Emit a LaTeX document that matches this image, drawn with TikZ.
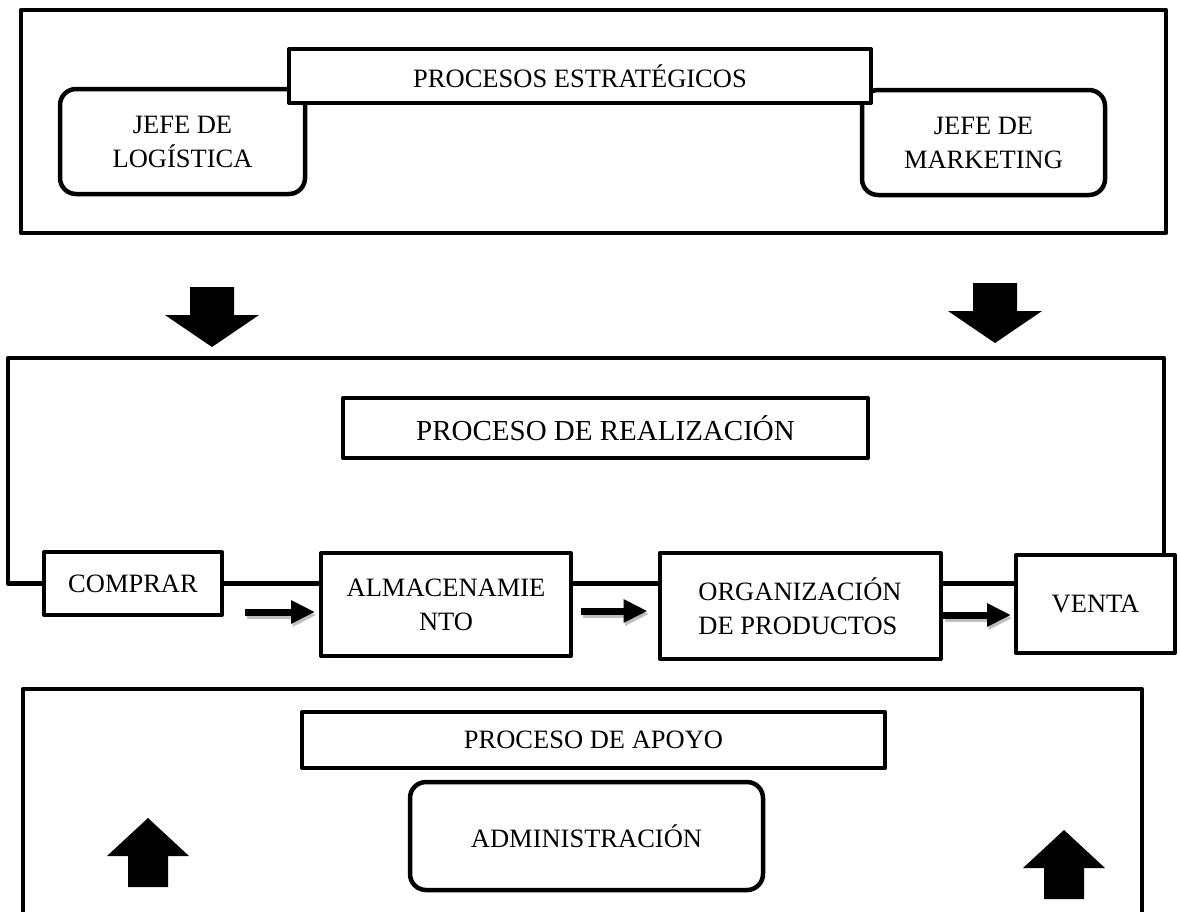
\documentclass[tikz,border=0pt]{standalone}
\usepackage{fontspec}
\setmainfont{Liberation Serif}
\usetikzlibrary{arrows.meta}

\begin{document}
\begin{tikzpicture}[line cap=round,line join=round,x=1pt,y=-1pt,
	caja/.style={draw,line width=4pt,fill=white,align=center,inner sep=0pt,font=\fontsize{26.5}{34}\selectfont},
	cajared/.style={caja,rounded corners=16pt,line width=4.5pt},
	marco/.style={line width=4.5pt},
	flechita/.style={line width=7pt,line cap=butt,-{Triangle[length=24pt,width=22pt]}}]
	\useasboundingbox (0,0) rectangle (1180,911);
	% procesos estrategicos
	\draw[marco] (21,10) rectangle (1166,233);
	\node[cajared,minimum width=245,minimum height=105] (logistica) at (182.5,141.5) {JEFE DE\\LOGÍSTICA};
	\node[cajared,minimum width=243,minimum height=105] (marketing) at (983.5,142.5) {JEFE DE\\MARKETING};
	\node[caja,minimum width=582,minimum height=54] (estrat) at (580,76) {PROCESOS ESTRATÉGICOS};
	\foreach \x/\y in {212/287,995/283}
	\fill[shift={(\x,\y)}] (-22,0) -- (22,0) -- (22,28) -- (47,28) -- (0,60) -- (-47,28) -- (-22,28) -- cycle;
	% proceso de realizacion
	\node[caja,minimum width=525,minimum height=60,font=\fontsize{29}{35}\selectfont] (realiz) at (605.5,428) {PROCESO DE REALIZACIÓN};
	\node[caja,minimum width=178,minimum height=63] (compra) at (133,583.5) {COMPRAR};
	\node[caja,minimum width=250,minimum height=103] (almac) at (446,604.5) {ALMACENAMIE\\NTO};
	\node[caja,align=left,minimum width=281,minimum height=106] (org) at (800,606) {ORGANIZACIÓN\\DE PRODUCTOS};
	\node[caja,minimum width=159,minimum height=98] (venta) at (1095.5,604) {VENTA};
	\draw[marco] (compra.west) -| (8,358) -- (1164,358) -- (1164,0 |- venta.north);
	\draw[marco] (compra.east) -- (compra.east -| almac.west)
		(almac.east |- compra.east) -- (compra.east -| org.west)
		(org.east |- compra.east) -- (compra.east -| venta.west);
	\coordinate (f1) at (245,612);
	\coordinate (f2) at (581,611);
	\coordinate (f3) at (943,615);
	\foreach \a/\b/\s in {f1/almac/4,f2/org/10,f3/venta/3}{
		\draw[flechita,black!25,transform canvas={shift={(1.5pt,-3pt)}},shorten >=\s pt] (\a) -- (\a -| \b.west);
		\draw[flechita,shorten >=\s pt] (\a) -- (\a -| \b.west);
	}
	% proceso de apoyo
	\draw[marco] (23,920) -- (23,689) -- (1142,689) -- (1142,920);
	\node[caja,minimum width=583,minimum height=56] (apoyo) at (593.5,740) {PROCESO DE APOYO};
	\node[cajared,minimum width=353,minimum height=108] (admin) at (586.5,836) {ADMINISTRACIÓN};
	\foreach \x/\y in {148/818,1064/830}
	\fill[shift={(\x,\y)}] (0,0) -- (41,38) -- (20,38) -- (20,69) -- (-20,69) -- (-20,38) -- (-41,38) -- cycle;
\end{tikzpicture}
\end{document}
